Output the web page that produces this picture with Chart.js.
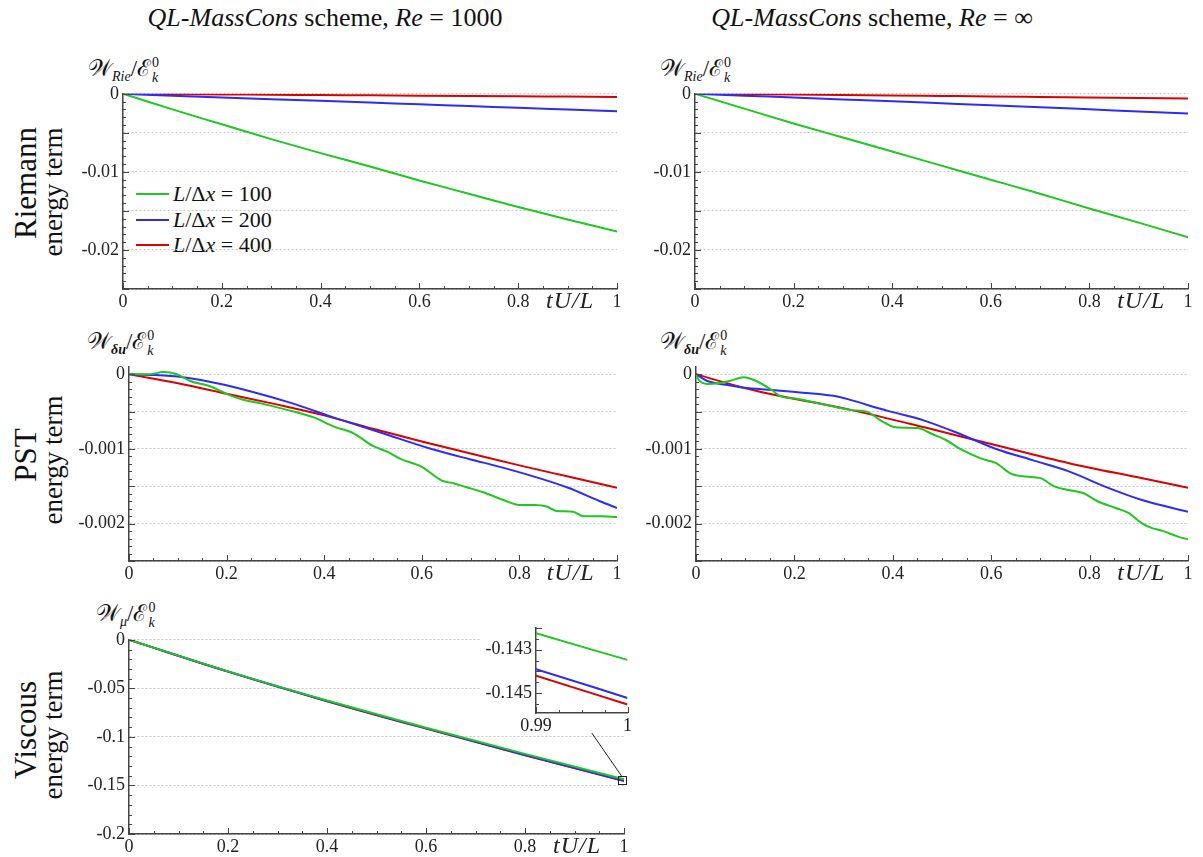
<!DOCTYPE html>
<html>
<head>
<meta charset="utf-8">
<title>QL-MassCons energy terms</title>
<script src="https://cdn.jsdelivr.net/npm/chart.js@4.4.1/dist/chart.umd.min.js"></script>
<style>
  html,body{margin:0;padding:0;background:#fff;}
  body{position:relative;width:1203px;height:857px;overflow:hidden;font-family:"Liberation Serif","DejaVu Serif",serif;color:#111;}
  canvas{position:absolute;}
  .txt{position:absolute;white-space:nowrap;line-height:1;}
  .title{font-size:26px;transform:translateX(-50%);}
  .row{transform:translate(-50%,-50%) rotate(-90deg);}
  .ytitle{font-size:23px;}
  .ytitle .sub{font-size:14px;position:relative;top:5px;}
  .ss{display:inline-block;position:relative;width:11px;height:10px;}
  .ss .up{position:absolute;left:1px;top:-10px;font-size:14px;}
  .ss .dn{position:absolute;left:1px;top:5px;font-size:14px;font-style:italic;}
  .legend{position:absolute;left:136px;top:0;font-size:22px;}
  .legend .item{position:absolute;left:0;height:22px;display:flex;align-items:center;white-space:nowrap;}
  .legend .swatch{display:inline-block;width:33px;height:2px;margin-right:4px;}
</style>
</head>
<body>
<div class="txt title" style="left:325px;top:5px;"><i>QL-MassCons</i> scheme, <i>Re</i> = 1000</div>
<div class="txt title" style="left:872px;top:5px;"><i>QL-MassCons</i> scheme, <i>Re</i> = ∞</div>

<div class="txt row" style="left:25px;top:183px;font-size:31px;">Riemann</div>
<div class="txt row" style="left:53px;top:192px;font-size:27px;">energy term</div>
<div class="txt row" style="left:25px;top:455px;font-size:31px;">PST</div>
<div class="txt row" style="left:53px;top:460px;font-size:27px;">energy term</div>
<div class="txt row" style="left:25px;top:730px;font-size:31px;">Viscous</div>
<div class="txt row" style="left:53px;top:735px;font-size:27px;">energy term</div>

<div class="txt ytitle" style="left:88px;top:57px;">𝒲<span class="sub"><i>Rie</i></span>/ℰ<span class="ss"><span class="up">0</span><span class="dn">k</span></span></div>
<div class="txt ytitle" style="left:660px;top:57px;">𝒲<span class="sub"><i>Rie</i></span>/ℰ<span class="ss"><span class="up">0</span><span class="dn">k</span></span></div>
<div class="txt ytitle" style="left:87px;top:330px;">𝒲<span class="sub"><b><i>δu</i></b></span>/ℰ<span class="ss"><span class="up">0</span><span class="dn">k</span></span></div>
<div class="txt ytitle" style="left:660px;top:330px;">𝒲<span class="sub"><b><i>δu</i></b></span>/ℰ<span class="ss"><span class="up">0</span><span class="dn">k</span></span></div>
<div class="txt ytitle" style="left:96px;top:602px;">𝒲<span class="sub"><i>μ</i></span>/ℰ<span class="ss"><span class="up">0</span><span class="dn">k</span></span></div>

<div id="legend" class="legend"></div>

<script>
// ---- series colours and grid resolutions -------------------------------
const seriesColors = ['#1ec81e', '#2b2bff', '#dc0000'];
const resolutions = [100, 200, 400];

// ---- Riemann energy term (W_Rie / E_k^0) --------------------------------
const tRie = [0, 0.1, 0.2, 0.3, 0.4, 0.5, 0.6, 0.7, 0.8, 0.9, 1];
const rie1000_100 = [0, -0.0020, -0.0039, -0.0058, -0.0076, -0.0093, -0.0111, -0.0128, -0.0145, -0.0161, -0.01765];
const rie1000_200 = [0, -0.00024, -0.00047, -0.00069, -0.00090, -0.00112, -0.00135, -0.00157, -0.00180, -0.00202, -0.00224];
const rie1000_400 = [0, -0.00004, -0.00008, -0.00012, -0.00016, -0.00020, -0.00024, -0.00028, -0.00032, -0.00036, -0.00040];
const rieInf_100 = [0, -0.0019, -0.0038, -0.0056, -0.0074, -0.0092, -0.0110, -0.0128, -0.0147, -0.0165, -0.01837];
const rieInf_200 = [0, -0.00024, -0.00048, -0.00072, -0.00096, -0.00121, -0.00146, -0.00172, -0.00199, -0.00226, -0.00253];
const rieInf_400 = [0, -0.00005, -0.00010, -0.00016, -0.00021, -0.00027, -0.00033, -0.00040, -0.00047, -0.00054, -0.00061];

// ---- PST energy term (W_du / E_k^0), Re = 1000 --------------------------
const tPst1000_100 = [0, 0.043, 0.07, 0.098, 0.125, 0.166, 0.21, 0.234, 0.27, 0.32, 0.38, 0.42, 0.46, 0.5, 0.53, 0.555, 0.6, 0.64, 0.665, 0.69, 0.726, 0.77, 0.8, 0.83, 0.856, 0.876, 0.91, 0.93, 0.965, 1];
const pst1000_100 = [0, 0, 0.00003, 0, -0.00009, -0.00016, -0.00029, -0.00034, -0.00039, -0.00047, -0.00058, -0.00070, -0.00079, -0.00096, -0.00104, -0.00113, -0.00124, -0.00142, -0.00146, -0.00151, -0.00158, -0.00169, -0.00175, -0.00175, -0.00177, -0.00183, -0.00184, -0.00190, -0.00190, -0.00191];
const tPst1000_200 = [0, 0.05, 0.11, 0.18, 0.25, 0.33, 0.42, 0.52, 0.62, 0.7, 0.76, 0.83, 0.9, 0.965, 1];
const pst1000_200 = [0, -0.00001, -0.00004, -0.00012, -0.00023, -0.00038, -0.00058, -0.00079, -0.00100, -0.00114, -0.00124, -0.00137, -0.00152, -0.00170, -0.00179];
const tPst1000_400 = [0, 0.1, 0.2, 0.3, 0.4, 0.5, 0.6, 0.7, 0.8, 0.9, 1];
const pst1000_400 = [0, -0.00012, -0.00026, -0.00040, -0.00055, -0.00073, -0.00090, -0.00106, -0.00122, -0.00137, -0.00152];

// ---- PST energy term, Re = infinity -------------------------------------
const tPstInf_100 = [0, 0.005, 0.023, 0.045, 0.068, 0.097, 0.119, 0.156, 0.17, 0.207, 0.258, 0.317, 0.347, 0.376, 0.405, 0.45, 0.48, 0.508, 0.537, 0.58, 0.61, 0.64, 0.67, 0.7, 0.728, 0.758, 0.787, 0.816, 0.853, 0.88, 0.905, 0.927, 0.95, 0.978, 1];
const pstInf_100 = [0, -0.00007, -0.00013, -0.00012, -0.00009, -0.00004, -0.00008, -0.00022, -0.00029, -0.00033, -0.00040, -0.00048, -0.00050, -0.00062, -0.00071, -0.00072, -0.00080, -0.00088, -0.00100, -0.00113, -0.00119, -0.00133, -0.00137, -0.00139, -0.00150, -0.00155, -0.00159, -0.00170, -0.00179, -0.00186, -0.00199, -0.00206, -0.00210, -0.00217, -0.00221];
const tPstInf_200 = [0, 0.023, 0.06, 0.097, 0.156, 0.207, 0.29, 0.317, 0.39, 0.464, 0.537, 0.61, 0.684, 0.758, 0.83, 0.905, 1];
const pstInf_200 = [0, -0.00009, -0.00014, -0.00018, -0.00021, -0.00024, -0.00030, -0.00035, -0.00049, -0.00062, -0.00080, -0.00100, -0.00115, -0.00130, -0.00150, -0.00168, -0.00184];
const tPstInf_400 = [0, 0.097, 0.156, 0.317, 0.464, 0.61, 0.758, 0.905, 1];
const pstInf_400 = [0, -0.00018, -0.00027, -0.00048, -0.00071, -0.00095, -0.00119, -0.00139, -0.00152];

// ---- viscous energy term (W_mu / E_k^0), Re = 1000 ----------------------
const tVisc = [0, 0.2, 0.4, 0.6, 0.8, 0.99, 1];
const visc1000_100 = [0, -0.0325, -0.0625, -0.0905, -0.1175, -0.14225, -0.14347];
const visc1000_200 = [0, -0.0327, -0.0630, -0.0912, -0.1186, -0.14389, -0.14521];
const visc1000_400 = [0, -0.0328, -0.0632, -0.0915, -0.1189, -0.14419, -0.14551];

// ---- axis ticks ----------------------------------------------------------
const xMajorTicks = [0, 0.2, 0.4, 0.6, 0.8, 1];
const rieGrid = [0, -0.005, -0.01, -0.015, -0.02, -0.025];
const rieLabels = [0, -0.01, -0.02];
const pstGrid = [0, -0.0005, -0.001, -0.0015, -0.002, -0.0025];
const pstLabels = [0, -0.001, -0.002];
const viscGrid = [0, -0.05, -0.1, -0.15, -0.2];
const viscLabels = [0, -0.05, -0.1, -0.15, -0.2];
const insetXTicks = [0.99, 1];
const insetYTicks = [-0.142, -0.143, -0.144, -0.145];
const insetYLabels = [-0.143, -0.145];

function steps(from, to, step) {
  const out = [];
  const n = Math.round((to - from) / step);
  for (let i = 0; i <= n; i++) out.push(+(from + i * step).toFixed(8));
  return out;
}
const xMinorTicks = steps(0, 1, 0.05);
const rieMinor = steps(-0.025, 0, 0.001);
const pstMinor = steps(-0.0025, 0, 0.0001);
const viscMinor = steps(-0.2, 0, 0.01);

function fmt(v) {
  if (Math.abs(v) < 1e-12) return '0';
  return String(parseFloat(v.toPrecision(6)));
}
const inList = (list, v) => list.some(l => Math.abs(l - v) < 1e-10);

Chart.defaults.font.family = '"Liberation Serif", "DejaVu Serif", serif';
Chart.defaults.font.size = 18;
Chart.defaults.color = '#222';

// inward axis ticks plus the italic time-axis name
const innerTicks = {
  id: 'innerTicks',
  afterDraw(chart, args, o) {
    if (!o || !o.yMajor) return;
    const {ctx, chartArea: a, scales: {x, y}} = chart;
    ctx.save();
    ctx.strokeStyle = '#444';
    ctx.lineWidth = 1;
    const seg = (x0, y0, x1, y1) => { ctx.beginPath(); ctx.moveTo(x0, y0); ctx.lineTo(x1, y1); ctx.stroke(); };
    o.yMinor.forEach(v => { if (v >= y.min && v <= y.max) { const p = Math.round(y.getPixelForValue(v)) + 0.5; seg(a.left, p, a.left + 3, p); } });
    o.yMajor.forEach(v => { const p = Math.round(y.getPixelForValue(v)) + 0.5; seg(a.left, p, a.left + 6, p); });
    o.xMinor.forEach(v => { if (v >= x.min && v <= x.max) { const p = Math.round(x.getPixelForValue(v)) + 0.5; seg(p, a.bottom, p, a.bottom - 3); } });
    o.xMajor.forEach(v => { const p = Math.round(x.getPixelForValue(v)) + 0.5; seg(p, a.bottom, p, a.bottom - 6); });
    if (o.axisName) {
      ctx.fillStyle = '#222';
      ctx.font = 'italic 24px "Liberation Serif", "DejaVu Serif", serif';
      ctx.letterSpacing = '1px';
      ctx.textAlign = 'center';
      ctx.textBaseline = 'top';
      ctx.fillText(o.axisName, x.getPixelForValue(o.axisNameAt), a.bottom + 1);
    }
    ctx.restore();
  }
};

// small box around the zoomed region and the pointer towards the inset
const zoomMark = {
  id: 'zoomMark',
  afterDatasetsDraw(chart, args, o) {
    if (!o || !o.at) return;
    const {ctx, scales: {x, y}} = chart;
    const cx = x.getPixelForValue(o.at[0]);
    const cy = y.getPixelForValue(o.at[1]);
    ctx.save();
    ctx.strokeStyle = '#222';
    ctx.lineWidth = 1;
    ctx.strokeRect(Math.round(cx - 4) + 0.5, Math.round(cy - 4) + 0.5, 8, 8);
    ctx.beginPath();
    ctx.moveTo(cx, cy - 4);
    ctx.lineTo(x.getPixelForValue(o.to[0]), y.getPixelForValue(o.to[1]));
    ctx.stroke();
    ctx.restore();
  }
};
Chart.register(innerTicks, zoomMark);

function xy(t, v) { return t.map((tv, i) => ({x: tv, y: v[i]})); }
function lines(sets) {
  return sets.map((s, i) => ({
    data: xy(s[0], s[1]),
    borderColor: seriesColors[i],
    borderWidth: 2,
    pointRadius: 0,
    cubicInterpolationMode: 'monotone',
    fill: false
  }));
}

function panel(box, cfg) {
  const pad = cfg.pad || {l: 70, t: 14, r: 16, b: 34};
  const c = document.createElement('canvas');
  const w = box.r - box.l + pad.l + pad.r;
  const h = box.b - box.t + pad.t + pad.b;
  c.width = w; c.height = h;
  c.style.left = (box.l - pad.l) + 'px';
  c.style.top = (box.t - pad.t) + 'px';
  c.style.width = w + 'px';
  c.style.height = h + 'px';
  if (cfg.white) c.style.background = '#fff';
  document.body.appendChild(c);
  new Chart(c, {
    type: 'line',
    data: {datasets: lines(cfg.sets)},
    options: {
      responsive: false,
      animation: false,
      devicePixelRatio: 1,
      layout: {padding: {top: pad.t, right: pad.r, left: 0, bottom: 0}},
      plugins: {
        legend: {display: false},
        tooltip: {enabled: false},
        innerTicks: {yMajor: cfg.yGrid, yMinor: cfg.yMinor, xMajor: cfg.xMajor, xMinor: cfg.xMinor,
                     axisName: cfg.axisName, axisNameAt: 0.905},
        zoomMark: cfg.mark || {}
      },
      scales: {
        x: {
          type: 'linear', min: cfg.xMin, max: cfg.xMax,
          afterFit(s) { s.height = pad.b; },
          afterBuildTicks(s) { s.ticks = cfg.xMajor.map(v => ({value: v})); },
          grid: {display: false, drawTicks: false},
          border: {display: true, color: '#444', width: 1.5},
          ticks: {padding: 2, maxRotation: 0, autoSkip: false, callback: v => fmt(v)}
        },
        y: {
          type: 'linear', min: cfg.yMin, max: cfg.yMax,
          afterFit(s) { s.width = pad.l; },
          afterBuildTicks(s) { s.ticks = cfg.yGrid.map(v => ({value: v})); },
          grid: {display: cfg.gridLines !== false, color: '#c4c4c4', lineWidth: 1, drawTicks: false},
          border: {display: true, color: '#444', width: 1.5, dash: [2, 2]},
          ticks: {padding: 4, autoSkip: false, callback: v => inList(cfg.yLabels, v) ? fmt(v) : ''}
        }
      }
    }
  });
}

panel({l: 123, t: 93, r: 617, b: 289}, {
  sets: [[tRie, rie1000_100], [tRie, rie1000_200], [tRie, rie1000_400]],
  xMin: 0, xMax: 1, yMin: -0.025, yMax: 0,
  xMajor: xMajorTicks, xMinor: xMinorTicks, yGrid: rieGrid, yLabels: rieLabels, yMinor: rieMinor,
  axisName: 'tU/L'
});
panel({l: 695, t: 93, r: 1188, b: 289}, {
  sets: [[tRie, rieInf_100], [tRie, rieInf_200], [tRie, rieInf_400]],
  xMin: 0, xMax: 1, yMin: -0.025, yMax: 0,
  xMajor: xMajorTicks, xMinor: xMinorTicks, yGrid: rieGrid, yLabels: rieLabels, yMinor: rieMinor,
  axisName: 'tU/L'
});
panel({l: 129, t: 366, r: 617, b: 561}, {
  sets: [[tPst1000_100, pst1000_100], [tPst1000_200, pst1000_200], [tPst1000_400, pst1000_400]],
  xMin: 0, xMax: 1, yMin: -0.0025, yMax: 0.0001,
  xMajor: xMajorTicks, xMinor: xMinorTicks, yGrid: pstGrid, yLabels: pstLabels, yMinor: pstMinor,
  axisName: 'tU/L'
});
panel({l: 696, t: 366, r: 1188, b: 561}, {
  sets: [[tPstInf_100, pstInf_100], [tPstInf_200, pstInf_200], [tPstInf_400, pstInf_400]],
  xMin: 0, xMax: 1, yMin: -0.0025, yMax: 0.0001,
  xMajor: xMajorTicks, xMinor: xMinorTicks, yGrid: pstGrid, yLabels: pstLabels, yMinor: pstMinor,
  axisName: 'tU/L'
});
panel({l: 129, t: 639, r: 624, b: 834}, {
  sets: [[tVisc, visc1000_100], [tVisc, visc1000_200], [tVisc, visc1000_400]],
  xMin: 0, xMax: 1, yMin: -0.2, yMax: 0,
  xMajor: xMajorTicks, xMinor: xMinorTicks, yGrid: viscGrid, yLabels: viscLabels, yMinor: viscMinor,
  axisName: 'tU/L',
  mark: {at: [0.995, -0.1444], to: [0.935, -0.096]}
});
// zoomed view of the viscous term near tU/L = 1
panel({l: 536, t: 621, r: 628, b: 713}, {
  pad: {l: 56, t: 8, r: 6, b: 18},
  white: true,
  sets: [[tVisc, visc1000_100], [tVisc, visc1000_200], [tVisc, visc1000_400]],
  xMin: 0.99, xMax: 1, yMin: -0.1459, yMax: -0.1420,
  xMajor: insetXTicks, xMinor: steps(0.99, 1, 0.0025), yGrid: insetYTicks, yLabels: insetYLabels,
  yMinor: steps(-0.1455, -0.142, 0.0005), gridLines: false
});

// legend for the three grid resolutions
const legend = document.getElementById('legend');
const legendRows = [194, 220, 245];
resolutions.forEach((n, i) => {
  const item = document.createElement('div');
  item.className = 'item';
  item.style.top = (legendRows[i] - 11) + 'px';
  item.innerHTML = '<span class="swatch" style="background:' + seriesColors[i] + '"></span>' +
                   '<span><i>L</i>/Δ<i>x</i> = ' + n + '</span>';
  legend.appendChild(item);
});
</script>
</body>
</html>
